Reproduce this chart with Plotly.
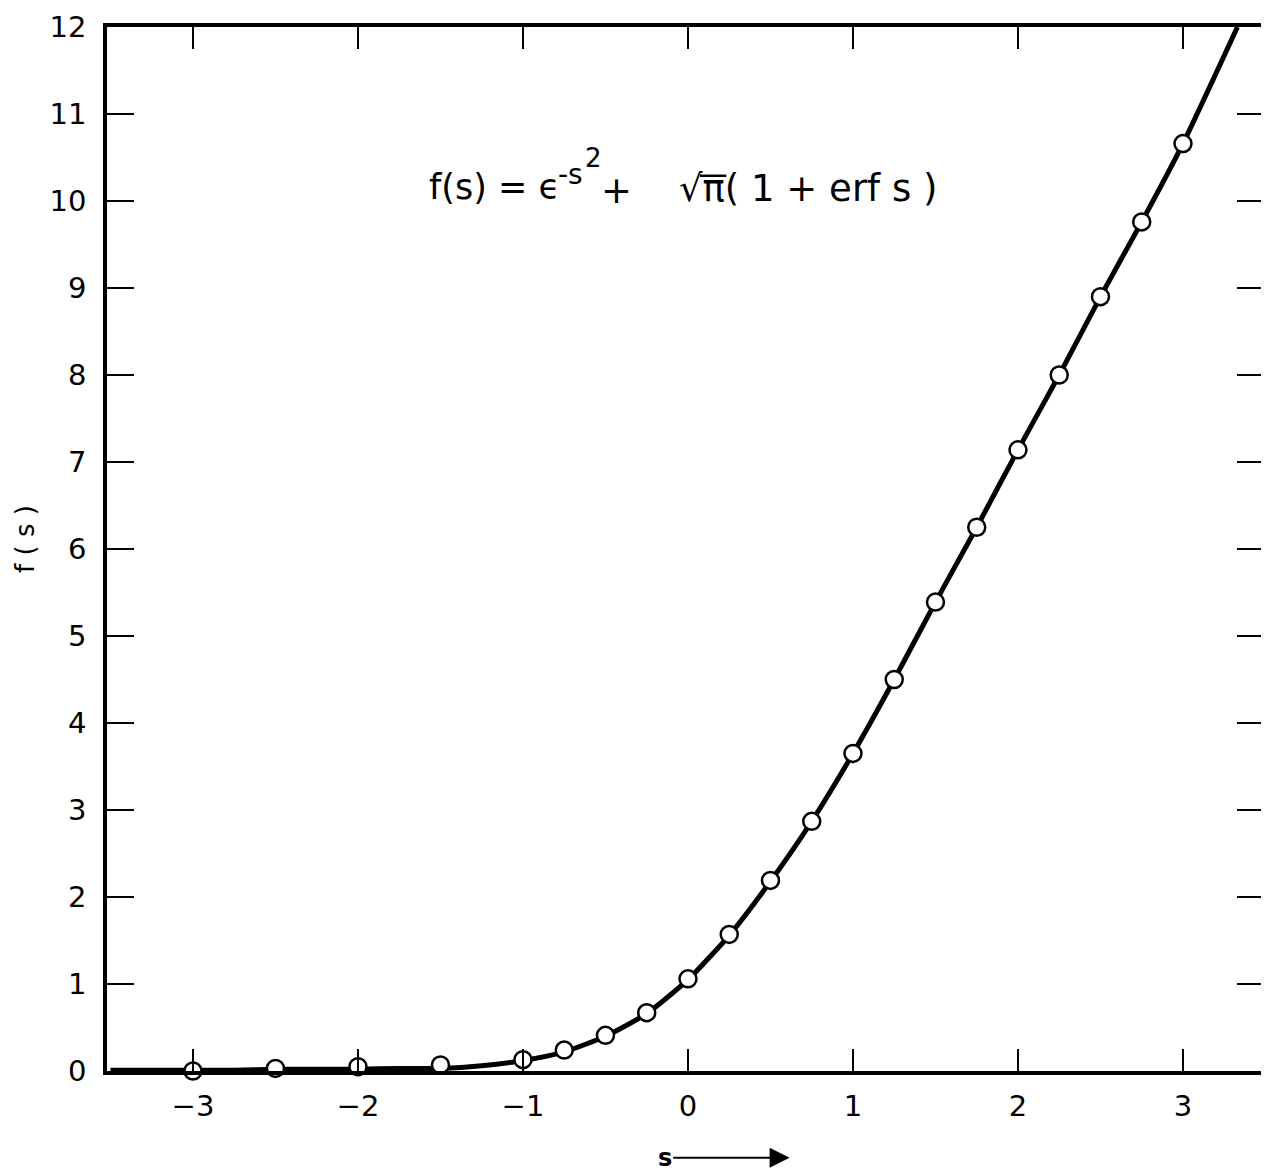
import plotly.graph_objects as go

marker_s = [-3.0, -2.5, -2.0, -1.5, -1.0, -0.75, -0.5, -0.25, 0.0, 0.25, 0.5, 0.75,
            1.0, 1.25, 1.5, 1.75, 2.0, 2.25, 2.5, 2.75, 3.0]
marker_f = [0.0, 0.03, 0.05, 0.07, 0.13, 0.24, 0.41, 0.67, 1.06, 1.57, 2.19, 2.87,
            3.65, 4.50, 5.39, 6.25, 7.14, 8.00, 8.90, 9.76, 10.66]

# Smooth curve
curve_s = [-3.5, -3.25, -3.0, -2.75, -2.5, -2.25, -2.0, -1.75, -1.5, -1.25, -1.0, -0.75,
           -0.5, -0.25, 0.0, 0.25, 0.5, 0.75, 1.0, 1.25, 1.5, 1.75, 2.0, 2.25, 2.5,
           2.75, 3.0, 3.33]
curve_f = [0.01, 0.01, 0.01, 0.01, 0.02, 0.02, 0.02, 0.03, 0.03, 0.06, 0.12, 0.22,
           0.40, 0.66, 1.05, 1.56, 2.18, 2.87, 3.65, 4.50, 5.39, 6.25, 7.14, 8.00, 8.90,
           9.76, 10.66, 12.0]

x_ticks = [-3, -2, -1, 0, 1, 2, 3]
x_ticktext = ["\u22123", "\u22122", "\u22121", "0", "1", "2", "3"]
y_ticks = list(range(0, 13))

FONT = "DejaVu Sans"

fig = go.Figure()
fig.add_trace(go.Scatter(x=curve_s, y=curve_f, mode="lines",
                         line=dict(color="black", width=5, shape="spline", smoothing=0.6),
                         cliponaxis=True, showlegend=False, hoverinfo="skip"))
fig.add_trace(go.Scatter(x=marker_s, y=marker_f, mode="markers",
                         marker=dict(symbol="circle", size=17, color="white",
                                     line=dict(color="black", width=2.5)),
                         cliponaxis=False, showlegend=False))

def txt(text, x, y, size, xanchor="center"):
    return dict(text=text, x=x, y=y, xref="x", yref="y", showarrow=False,
                xanchor=xanchor, yanchor="middle",
                font=dict(family=FONT, size=size, color="black"))

fig.update_layout(
    width=1269, height=1175,
    margin=dict(l=99, r=13, t=19, b=112),
    paper_bgcolor="white", plot_bgcolor="white",
    font=dict(family=FONT, color="black", size=29),
    xaxis=dict(range=[-3.521, 3.491], tickvals=x_ticks, ticktext=x_ticktext,
               ticks="inside", ticklen=22, tickwidth=1.5, tickcolor="black",
               showline=True, linewidth=3.5, linecolor="black", mirror="ticks",
               showgrid=False, zeroline=False, ticklabelstandoff=6, automargin=False,
               tickfont=dict(family=FONT, size=29)),
    yaxis=dict(range=[0, 12], tickvals=y_ticks,
               ticks="inside", ticklen=27, tickwidth=2, tickcolor="black",
               showline=True, linewidth=3.5, linecolor="black", mirror="ticks",
               showgrid=False, zeroline=False, ticklabelstandoff=11, automargin=False,
               tickfont=dict(family=FONT, size=29)),
    shapes=[dict(type="line", xref="x", yref="y", x0=0.073, x1=0.232, y0=10.29, y1=10.29,
                 line=dict(color="black", width=2.5))],
    annotations=[
        txt("f(s) = \u03f5", -1.582, 10.16, 35, "left"),
        txt("-s", -0.80, 10.31, 28, "left"),
        txt("2", -0.635, 10.50, 26, "left"),
        txt("+", -0.436, 10.12, 37),
        txt("\u221a\u03c0( 1 + erf s )", -0.066, 10.14, 37, "left"),
        dict(text="f ( s )", x=-0.0709, y=0.5096, xref="paper", yref="paper",
             xanchor="center", yanchor="middle",
             textangle=-90, showarrow=False,
             font=dict(family=FONT, size=26, color="black")),
        dict(text="<b>s</b>", x=0.590, y=-0.083, xref="paper", yref="paper",
             ax=-125, ay=0, axref="pixel", ayref="pixel", showarrow=True,
             arrowhead=2, arrowsize=2, arrowwidth=2, arrowcolor="black",
             font=dict(family=FONT, size=24, color="black")),
    ],
)

fig.write_html("out.html")
